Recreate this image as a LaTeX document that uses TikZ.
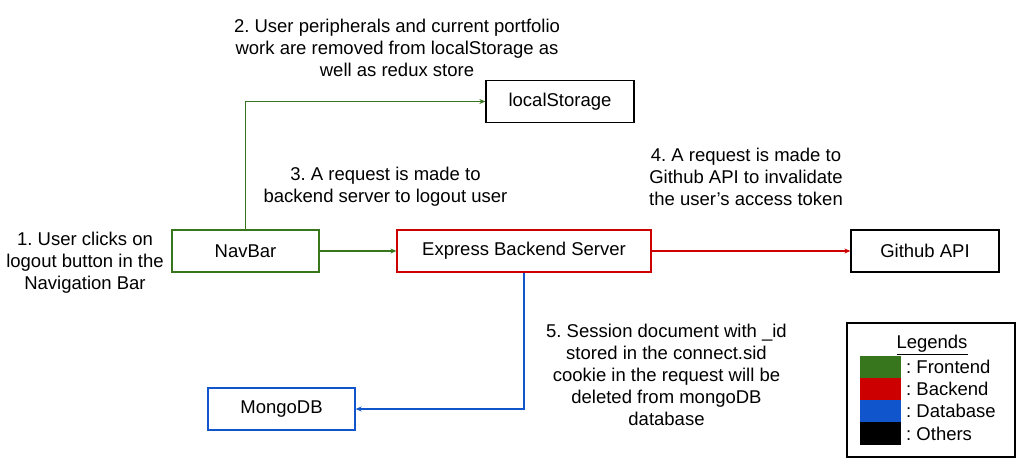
\documentclass[tikz,border=0pt]{standalone}
\usepackage{fontspec}
\setmainfont{Liberation Sans}
\usetikzlibrary{arrows.meta}
\definecolor{fe}{HTML}{38761D}
\definecolor{be}{HTML}{CC0000}
\definecolor{db}{HTML}{1155CC}
\frenchspacing
\begin{document}
\begin{tikzpicture}[x=1pt,y=-1pt,
  every node/.style={font=\fontsize{18.5}{22}\selectfont},
  box/.style={draw,line width=1.3pt,minimum height=42pt,inner sep=0pt},
  note/.style={align=center,inner sep=0pt},
  conn/.style={line width=1.2pt,-{Stealth[length=6pt,width=5pt]}},
  leg/.style={anchor=west,inner sep=0pt}]
\useasboundingbox (0,0) rectangle (1028,472);
% boxes
\node[box,minimum width=148pt] (ls) at (560,101.5) {localStorage};
\node[box,draw=fe,minimum width=147pt] (nav) at (245.5,251) {NavBar};
\node[box,draw=be,minimum width=254pt] (exp) at (524,251) {Express Backend Server};
\node[box,minimum width=148pt] (gh) at (925,251) {Github API};
\node[box,draw=db,minimum width=147pt] (mongo) at (281.5,409) {MongoDB};
% notes
\node[note] (n1) at (85,263) {1. User clicks on\\logout button in the\\Navigation Bar};
\node[note] (n2) at (397,48) {2. User peripherals and current portfolio\\work are removed from localStorage as\\well as redux store};
\node[note] (n3) at (385.5,187) {3. A request is made to\\backend server to logout user};
\node[note] (n4) at (746,177) {4. A request is made to\\Github API to invalidate\\the user’s access token};
\node[note] (n5) at (666.5,375) {5. Session document with \_id\\stored in the connect.sid\\cookie in the request will be\\deleted from mongoDB\\database};
% connectors
\draw[conn,fe] (nav.north) |- (ls.west);
\draw[conn,fe] (nav.east) -- (exp.west);
\draw[conn,be] (exp.east) -- (gh.west);
\draw[conn,db] (exp.south) |- (mongo.east);
% legend
\node[draw,line width=1.3pt,minimum width=168pt,minimum height=134pt,inner sep=0pt] (legbox) at (931,390) {};
\node[inner sep=0pt] (legt) at (932,345) {\underline{Legends}};
\fill[fe] (860,356) rectangle (901,378);
\fill[be] (860,378) rectangle (901,400);
\fill[db] (860,400) rectangle (901,422);
\fill[black] (860,422) rectangle (901,445);
\node[leg] (l1) at (906,367) {: Frontend};
\node[leg] (l2) at (906,389) {: Backend};
\node[leg] (l3) at (906,411) {: Database};
\node[leg] (l4) at (906,433.5) {: Others};
\end{tikzpicture}
\end{document}
